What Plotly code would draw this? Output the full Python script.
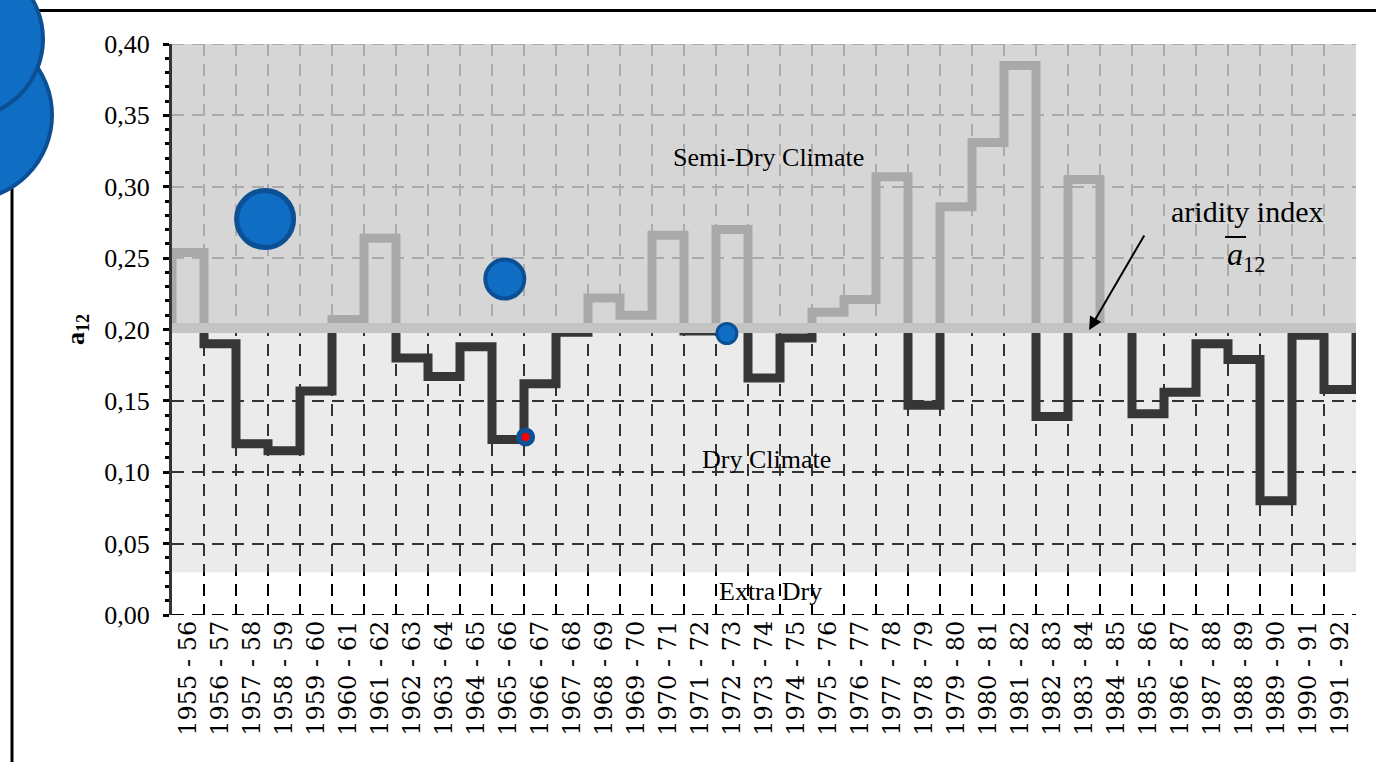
import plotly.graph_objects as go

# ---------------- data ----------------
seasons = [f"{y} - {str(y + 1)[2:]}" for y in range(1955, 1992)]
aridity = [0.254, 0.190, 0.120, 0.115, 0.157, 0.207, 0.264, 0.180, 0.167, 0.188,
           0.123, 0.162, 0.198, 0.222, 0.210, 0.266, 0.199, 0.270, 0.166, 0.194,
           0.212, 0.221, 0.307, 0.147, 0.286, 0.331, 0.385, 0.139, 0.305, 0.201,
           0.141, 0.156, 0.190, 0.179, 0.080, 0.196, 0.158]
mean_index = 0.201
extra_dry_limit = 0.03
y_top = 0.40

# decorative bubbles (category position, value)
bubble_x = [2.41, 9.9, 16.84, 10.55, 14.09]
bubble_y = [0.2774, 0.2354, 0.1972, 0.1247, -0.004]
bubble_size = [57, 39, 20, 13.5, 31]
bubble_line = [5, 4, 3, 5.5, 4]
bubble_fill = ["#0F6DC4", "#0F6DC4", "#0F6DC4", "#FF0000", "#FF0000"]

FONT = "Liberation Serif"
LABEL_FONT = "DejaVu Serif"
W, H = 1376, 762
L, R, T, B = 172, 20, 44, 147
PW, PH = W - L - R, H - T - B
DASH = "12px,8px"


def px(x):
    return (x - L) / PW


def py(y):
    return (H - B - y) / PH


n = len(aridity)
# step outline: each season spans [i-0.5, i+0.5]
step_x = [-0.5] + [i - 0.5 for i in range(n)] + [n - 0.5]
upper_y = [mean_index] + [max(v, mean_index) for v in aridity] + [mean_index]
lower_y = [mean_index] + [min(v, mean_index) for v in aridity] + [mean_index]

fig = go.Figure()
fig.add_trace(go.Scatter(x=step_x, y=upper_y, mode="lines", line_shape="hv",
                         line=dict(color="#a9a9a9", width=9), hoverinfo="skip"))
fig.add_trace(go.Scatter(x=step_x, y=lower_y, mode="lines", line_shape="hv",
                         line=dict(color="#363636", width=9), hoverinfo="skip"))
fig.add_trace(go.Scatter(x=[-0.5, n - 0.5], y=[mean_index, mean_index], mode="lines",
                         line=dict(color="#c4c4c4", width=10), hoverinfo="skip"))
fig.add_trace(go.Scatter(x=bubble_x, y=bubble_y, mode="markers", cliponaxis=False,
                         marker=dict(size=bubble_size, color=bubble_fill, opacity=1,
                                     line=dict(color="#0B4F94", width=bubble_line)),
                         hoverinfo="skip"))

shapes = [
    # top / bottom dashed frame of the grid
    dict(type="line", xref="x", yref="y", x0=-0.5, x1=n - 0.5, y0=y_top, y1=y_top,
         line=dict(color="black", width=2, dash=DASH), layer="between"),
    dict(type="line", xref="x", yref="y", x0=-0.5, x1=n - 0.5, y0=0, y1=0,
         line=dict(color="black", width=2, dash=DASH), layer="between"),
    # climate zones (semi-transparent, above gridlines, below traces)
    dict(type="rect", xref="x", yref="y", x0=-0.5, x1=n - 0.5, y0=mean_index, y1=y_top,
         fillcolor="rgba(206,206,206,0.83)", line=dict(width=0), layer="between"),
    dict(type="rect", xref="x", yref="y", x0=-0.5, x1=n - 0.5, y0=extra_dry_limit, y1=mean_index,
         fillcolor="rgba(183,183,183,0.28)", line=dict(width=0), layer="between"),
    # frame lines
    dict(type="line", xref="paper", yref="paper", x0=px(0), x1=px(W), y0=py(10.5), y1=py(10.5),
         line=dict(color="black", width=3)),
    dict(type="line", xref="paper", yref="paper", x0=px(12), x1=px(12), y0=py(185), y1=py(H),
         line=dict(color="black", width=3)),
    # blob
    dict(type="circle", xref="paper", yref="paper", xsizemode="pixel", ysizemode="pixel",
         xanchor=px(-33), yanchor=py(115), x0=-85, x1=85, y0=-85, y1=85,
         fillcolor="#0F6DC4", line=dict(color="#0B4F94", width=4)),
    dict(type="circle", xref="paper", yref="paper", xsizemode="pixel", ysizemode="pixel",
         xanchor=px(-36), yanchor=py(39), x0=-79, x1=79, y0=-79, y1=79,
         fillcolor="#0F6DC4", line=dict(color="#0B4F94", width=4)),
    # overline of the mean symbol
    dict(type="line", xref="paper", yref="paper", x0=px(1225), x1=px(1246), y0=py(237), y1=py(237),
         line=dict(color="black", width=2)),
]


def note(x, y, text, size, **kw):
    d = dict(x=x, y=y, xref="paper", yref="paper", text=text, showarrow=False,
             xanchor="center", yanchor="middle",
             font=dict(family=FONT, size=size, color="black"))
    d.update(kw)
    return d


annotations = [
    note(px(768), py(158), "Semi-Dry Climate", 26),
    note(px(766), py(459), "Dry Climate", 26),
    note(px(770), py(591), "Extra Dry", 26),
    note(px(1247), py(212), "aridity index", 30),
    note(px(1246), py(256), "<i>a</i><sub>12</sub>", 32),
    note(px(77), py(330), "<b>a<sub>12</sub></b>", 26, textangle=-90),
    dict(x=28.16, y=0.1997, xref="x", yref="y", text="", showarrow=True,
         ax=56, ay=-96, arrowhead=2, arrowsize=1.3, arrowwidth=2, arrowcolor="black", standoff=0),
]

fig.update_layout(
    width=W, height=H, autosize=False,
    margin=dict(l=L, r=R, t=T, b=B),
    plot_bgcolor="white", paper_bgcolor="white",
    separators=", ",
    showlegend=False,
    shapes=shapes,
    annotations=annotations,
    xaxis=dict(
        range=[-0.5, n - 0.5], tickmode="array", tickvals=list(range(n)), ticktext=seasons,
        tickangle=-90, showgrid=False, zeroline=False, showline=False,
        ticks="", tickfont=dict(family=LABEL_FONT, size=24, color="black"),
        minor=dict(tickmode="array", tickvals=[i - 0.5 for i in range(n + 1)], showgrid=True,
                   gridcolor="black", griddash=DASH, gridwidth=2, ticks=""),
        fixedrange=True,
    ),
    yaxis=dict(
        range=[0, y_top], tick0=0, dtick=0.05, tickformat=".2f",
        showgrid=True, gridcolor="black", griddash=DASH, gridwidth=2,
        zeroline=False, showline=True, linecolor="#333333", linewidth=3,
        ticks="outside", ticklen=6, tickwidth=3, tickcolor="black",
        minor=dict(dtick=0.01, ticks="outside", ticklen=4, tickwidth=3, tickcolor="black",
                   showgrid=False),
        tickfont=dict(family=FONT, size=26, color="black"),
        ticklabelstandoff=8,
        fixedrange=True,
    ),
)

fig.write_html("out.html", config={"displayModeBar": False},
               post_script="document.body.style.margin='0';")
